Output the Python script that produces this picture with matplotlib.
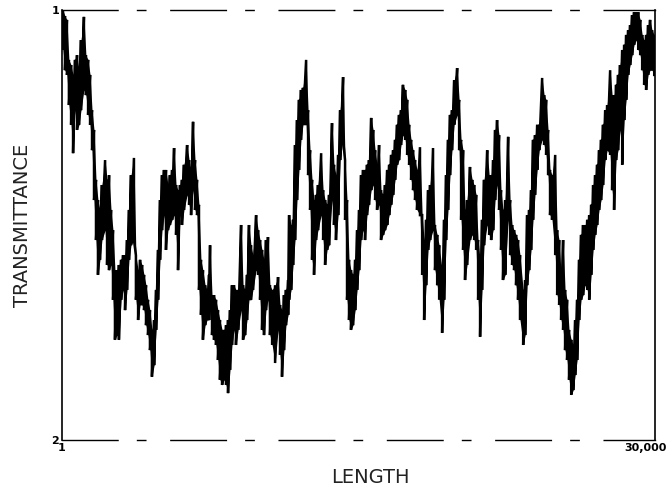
import numpy as np
import matplotlib.pyplot as plt
from matplotlib.transforms import ScaledTranslation

## Trace read column by column: position along the sample and the top / bottom
## of the recorded band (transmittance axis runs from 1 at the top to 2 at the bottom)

length = [
    50, 150, 250, 350, 460, 560, 660, 760, 860, 960,
    1110, 1210, 1320, 1420, 1520, 1620, 1720, 1820, 1920, 2020,
    2180, 2280, 2380, 2480, 2580, 2680, 2780, 2880, 2990, 3090,
    3190, 3290, 3390, 3490, 3640, 3740, 3850, 3950, 4050, 4150,
    4250, 4350, 4450, 4550, 4660, 4760, 4860, 4960, 5060, 5160,
    5260, 5360, 5460, 5570, 5670, 5770, 5870, 5970, 6070, 6170,
    6330, 6430, 6530, 6630, 6730, 6830, 6930, 7030, 7130, 7240,
    7340, 7440, 7490, 7590, 7690, 7790, 7890, 7990, 8100, 8200,
    8300, 8400, 8500, 8600, 8700, 8800, 8910, 9060, 9160, 9260,
    9360, 9460, 9560, 9660, 9820, 9920, 10020, 10120, 10220, 10320,
    10420, 10520, 10630, 10780, 10930, 11030, 11130, 11230, 11330, 11440,
    11490, 11590, 11690, 11790, 11890, 11990, 12090, 12190, 12350, 12450,
    12550, 12650, 12750, 12850, 12950, 13110, 13210, 13310, 13410, 13510,
    13660, 13760, 13860, 13970, 14070, 14220, 14320, 14420, 14520, 14620,
    14720, 14830, 14930, 15030, 15130, 15230, 15330, 15430, 15530, 15640,
    15740, 15840, 15940, 16040, 16140, 16240, 16340, 16450, 16550, 16650,
    16750, 16850, 16950, 17050, 17150, 17250, 17360, 17460, 17560, 17660,
    17760, 17860, 17960, 18110, 18220, 18320, 18420, 18520, 18620, 18770,
    18870, 18980, 19080, 19230, 19330, 19430, 19530, 19630, 19730, 19840,
    19990, 20090, 20190, 20290, 20390, 20490, 20640, 20750, 20850, 20950,
    21050, 21150, 21250, 21350, 21510, 21610, 21710, 21810, 21910, 22010,
    22110, 22210, 22310, 22420, 22570, 22670, 22770, 22870, 22970, 23070,
    23170, 23330, 23430, 23530, 23630, 23730, 23830, 23930, 24040, 24140,
    24290, 24390, 24490, 24590, 24690, 24790, 24950, 25050, 25150, 25250,
    25350, 25450, 25550, 25650, 25760, 25860, 25960, 26060, 26160, 26260,
    26360, 26460, 26570, 26670, 26770, 26870, 26970, 27070, 27170, 27270,
    27370, 27480, 27580, 27730, 27830, 27930, 28030, 28130, 28230, 28340,
    28440, 28540, 28640, 28740, 28840, 28940, 29040, 29150, 29250, 29350,
    29450, 29550, 29650, 29750, 29850, 29960,
]

t_upper = [
    1.000, 1.014, 1.023, 1.116, 1.128, 1.151, 1.116, 1.105, 1.140, 1.070,
    1.016, 1.105, 1.116, 1.151, 1.233, 1.279, 1.395, 1.442, 1.465, 1.407,
    1.349, 1.395, 1.384, 1.465, 1.512, 1.605, 1.605, 1.593, 1.581, 1.570,
    1.570, 1.535, 1.465, 1.384, 1.344, 1.570, 1.605, 1.581, 1.593, 1.616,
    1.640, 1.674, 1.698, 1.744, 1.721, 1.651, 1.558, 1.442, 1.384, 1.372,
    1.372, 1.407, 1.384, 1.372, 1.321, 1.407, 1.419, 1.407, 1.395, 1.360,
    1.314, 1.349, 1.372, 1.260, 1.349, 1.395, 1.453, 1.581, 1.605, 1.640,
    1.651, 1.616, 1.547, 1.663, 1.663, 1.674, 1.698, 1.721, 1.744, 1.744,
    1.733, 1.721, 1.698, 1.640, 1.640, 1.651, 1.651, 1.500, 1.640, 1.651,
    1.616, 1.500, 1.547, 1.570, 1.477, 1.512, 1.535, 1.558, 1.581, 1.535,
    1.528, 1.640, 1.651, 1.640, 1.621, 1.686, 1.698, 1.663, 1.651, 1.628,
    1.477, 1.500, 1.488, 1.314, 1.256, 1.209, 1.186, 1.181, 1.116, 1.233,
    1.326, 1.395, 1.442, 1.430, 1.407, 1.333, 1.419, 1.442, 1.453, 1.430,
    1.263, 1.360, 1.384, 1.337, 1.233, 1.156, 1.349, 1.442, 1.581, 1.605,
    1.616, 1.581, 1.512, 1.465, 1.384, 1.372, 1.372, 1.360, 1.349, 1.251,
    1.279, 1.326, 1.360, 1.314, 1.419, 1.430, 1.407, 1.372, 1.360, 1.337,
    1.326, 1.302, 1.267, 1.244, 1.233, 1.174, 1.186, 1.209, 1.267, 1.302,
    1.326, 1.349, 1.372, 1.319, 1.477, 1.535, 1.488, 1.419, 1.407, 1.321,
    1.500, 1.523, 1.547, 1.605, 1.488, 1.384, 1.302, 1.244, 1.233, 1.163,
    1.135, 1.209, 1.302, 1.326, 1.465, 1.442, 1.365, 1.395, 1.407, 1.430,
    1.535, 1.581, 1.488, 1.395, 1.326, 1.384, 1.384, 1.349, 1.279, 1.256,
    1.291, 1.419, 1.465, 1.442, 1.295, 1.442, 1.500, 1.512, 1.523, 1.535,
    1.570, 1.651, 1.628, 1.477, 1.465, 1.419, 1.302, 1.291, 1.267, 1.267,
    1.158, 1.198, 1.209, 1.279, 1.372, 1.384, 1.337, 1.512, 1.535, 1.616,
    1.535, 1.651, 1.674, 1.744, 1.767, 1.779, 1.721, 1.674, 1.581, 1.523,
    1.500, 1.500, 1.488, 1.477, 1.453, 1.407, 1.384, 1.360, 1.326, 1.302,
    1.267, 1.233, 1.221, 1.140, 1.198, 1.198, 1.174, 1.151, 1.128, 1.093,
    1.081, 1.058, 1.047, 1.035, 1.012, 1.005, 1.005, 1.005, 1.023, 1.058,
    1.070, 1.058, 1.035, 1.023, 1.047, 1.058,
]

t_lower = [
    1.093, 1.140, 1.151, 1.221, 1.267, 1.333, 1.233, 1.279, 1.267, 1.233,
    1.186, 1.198, 1.244, 1.267, 1.326, 1.442, 1.535, 1.616, 1.581, 1.535,
    1.512, 1.593, 1.605, 1.593, 1.674, 1.767, 1.756, 1.767, 1.674, 1.651,
    1.698, 1.651, 1.581, 1.547, 1.535, 1.674, 1.721, 1.686, 1.686, 1.698,
    1.733, 1.756, 1.791, 1.853, 1.826, 1.744, 1.674, 1.581, 1.512, 1.477,
    1.558, 1.512, 1.500, 1.488, 1.477, 1.523, 1.605, 1.477, 1.500, 1.465,
    1.430, 1.453, 1.477, 1.419, 1.465, 1.477, 1.651, 1.709, 1.767, 1.733,
    1.721, 1.721, 1.698, 1.756, 1.767, 1.779, 1.814, 1.860, 1.872, 1.860,
    1.872, 1.891, 1.837, 1.779, 1.744, 1.779, 1.744, 1.698, 1.767, 1.756,
    1.721, 1.674, 1.674, 1.651, 1.605, 1.616, 1.674, 1.744, 1.756, 1.698,
    1.674, 1.756, 1.779, 1.821, 1.744, 1.802, 1.853, 1.791, 1.733, 1.709,
    1.674, 1.651, 1.593, 1.535, 1.442, 1.372, 1.302, 1.267, 1.267, 1.384,
    1.465, 1.581, 1.616, 1.535, 1.512, 1.477, 1.535, 1.593, 1.558, 1.547,
    1.442, 1.500, 1.535, 1.477, 1.349, 1.302, 1.488, 1.674, 1.721, 1.744,
    1.733, 1.698, 1.651, 1.605, 1.535, 1.512, 1.535, 1.477, 1.453, 1.419,
    1.407, 1.442, 1.465, 1.453, 1.535, 1.523, 1.512, 1.500, 1.477, 1.453,
    1.430, 1.395, 1.360, 1.349, 1.314, 1.291, 1.302, 1.337, 1.360, 1.395,
    1.419, 1.442, 1.465, 1.477, 1.616, 1.721, 1.640, 1.558, 1.535, 1.512,
    1.605, 1.640, 1.674, 1.751, 1.674, 1.535, 1.465, 1.384, 1.326, 1.267,
    1.244, 1.326, 1.488, 1.558, 1.628, 1.593, 1.535, 1.523, 1.535, 1.558,
    1.674, 1.760, 1.651, 1.547, 1.500, 1.523, 1.535, 1.512, 1.442, 1.407,
    1.465, 1.558, 1.628, 1.616, 1.488, 1.570, 1.593, 1.605, 1.640, 1.674,
    1.721, 1.779, 1.756, 1.640, 1.605, 1.558, 1.488, 1.430, 1.372, 1.326,
    1.302, 1.314, 1.337, 1.384, 1.477, 1.488, 1.570, 1.663, 1.686, 1.721,
    1.744, 1.791, 1.814, 1.860, 1.895, 1.884, 1.849, 1.814, 1.721, 1.674,
    1.663, 1.640, 1.651, 1.674, 1.616, 1.558, 1.523, 1.500, 1.465, 1.442,
    1.407, 1.349, 1.326, 1.337, 1.419, 1.465, 1.349, 1.326, 1.279, 1.360,
    1.256, 1.209, 1.151, 1.128, 1.105, 1.081, 1.070, 1.093, 1.105, 1.140,
    1.174, 1.186, 1.151, 1.140, 1.140, 1.151,
]

x_ticks = [1, 30000]
x_ticklabels = ["1", "30,000"]
y_ticks = [1, 2]
y_ticklabels = ["1", "2"]

##Trace: up and down through every column so the band looks like the pen record

zx = np.column_stack((length, length)).ravel()
zy = np.column_stack((t_upper, t_lower)).ravel()

fig = plt.figure(figsize=(6.69, 4.92), dpi=100)
ax = fig.add_axes([0.0927, 0.1057, 0.8864, 0.874])

ax.fill_between(length, t_upper, t_lower, color="black", lw=0)
ax.plot(zx, zy, color="black", lw=1.8, solid_joinstyle="miter")

ax.set_xlim(1, 30000)
ax.set_ylim(2, 1)

ax.set_xticks(x_ticks)
ax.set_xticklabels(x_ticklabels, fontsize=8, fontweight="bold")
ax.set_yticks(y_ticks)
ax.set_yticklabels(y_ticklabels, fontsize=8, fontweight="bold")
ax.tick_params(length=0, pad=2)

# last x label sits at the right edge of the frame, pushed left so it stays on the page
last = ax.get_xticklabels()[-1]
last.set_horizontalalignment("right")
last.set_transform(last.get_transform() + ScaledTranslation(0.12, 0, fig.dpi_scale_trans))

# broken-looking frame: solid sides, dashed top and bottom
for side in ["left", "right"]:
    ax.spines[side].set_linewidth(1.2)
for side in ["top", "bottom"]:
    ax.spines[side].set_linewidth(1.0)
    ax.spines[side].set_linestyle((0, (40, 14, 6, 18)))

ax.set_xlabel("LENGTH", fontsize=14, family=["Liberation Sans Narrow", "DejaVu Sans"],
              color="#222222")
ax.xaxis.set_label_coords(0.52, -0.065)
ax.set_ylabel("TRANSMITTANCE", fontsize=14, family=["Liberation Sans Narrow", "DejaVu Sans"],
              color="#222222")
ax.yaxis.set_label_coords(-0.05, 0.5)

fig.savefig("out.png", dpi=100)
